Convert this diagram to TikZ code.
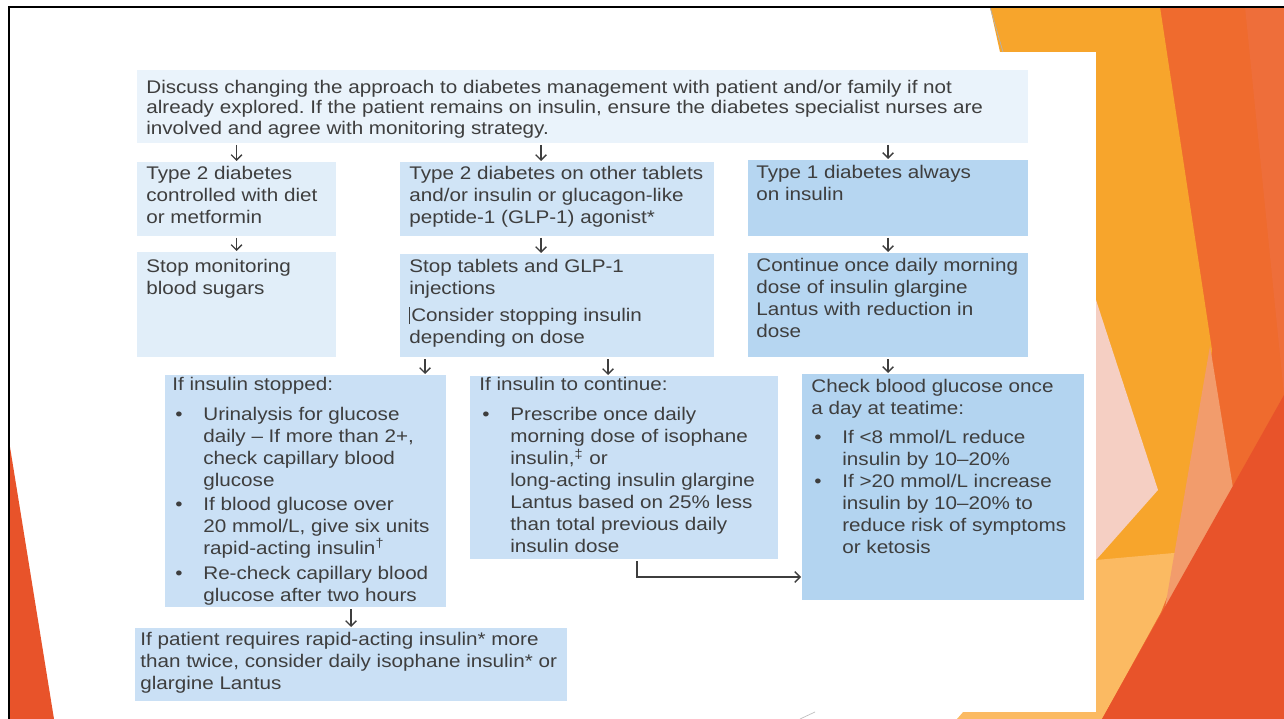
\documentclass[tikz,border=0pt]{standalone}
\usepackage{fontspec}
\setmainfont[FakeStretch=1.13]{Liberation Sans}
\usetikzlibrary{fit,arrows.meta}
\frenchspacing
\definecolor{ink}{HTML}{3E3E3E}
\definecolor{topfill}{HTML}{EAF3FB}
\definecolor{palefill}{HTML}{E1EEF9}
\definecolor{midfill}{HTML}{D0E4F6}
\definecolor{deepfill}{HTML}{B6D6F1}
\definecolor{listfill}{HTML}{CAE0F5}
\definecolor{checkfill}{HTML}{B3D4F0}
\definecolor{facetyellow}{HTML}{F7A52C}
\definecolor{facetorange}{HTML}{EF6B2E}
\definecolor{facetred}{HTML}{E8532A}
\definecolor{facetpeach}{HTML}{F29C6C}
\definecolor{facetlight}{HTML}{FBBA62}
\definecolor{facetpink}{HTML}{F5CFC3}
\definecolor{facetstripe}{HTML}{EE6E3A}
\newdimen\pxu \pxu=0.02cm
\newcommand{\bitem}{\makebox[31\pxu][l]{\hspace{3\pxu}\textbullet}}
\newcommand{\bpad}{\hspace*{31\pxu}}
\begin{document}
\begin{tikzpicture}[x=0.02cm,y=-0.02cm]
\tikzstyle{every node}+=[inner sep=0pt]
\tikzstyle{panel}=[draw=none,outer sep=0pt]
\tikzstyle{txt}=[anchor=north west,align=left,text=ink,font=\fontsize{10.4}{12.5}\selectfont]
\tikzstyle{arr}=[draw=ink,line width=0.8pt,-{Straight Barb[length=3pt,width=6pt]},shorten <=2\pxu,shorten >=1\pxu]
\useasboundingbox (0,0) rectangle (1284,719);
% slide background
\fill[white] (0,0) rectangle (1284,719);
\fill[facetorange] (1160,7) -- (1284,7) -- (1284,719) -- (1102,719) -- cycle;
\fill[facetstripe] (1245,7) -- (1284,7) -- (1284,395) -- cycle;
\fill[facetyellow] (990,7) -- (1160,7) -- (1212,350) -- (1180,600) -- (1096,560) -- (1000,52) -- cycle;
\fill[facetpink] (1096,300) -- (1158,490) -- (1096,560) -- cycle;
\fill[facetlight] (957,719) -- (1096,560) -- (1185,552) -- (1161,612) -- (1102,719) -- cycle;
\fill[facetpeach] (1210,346) -- (1233,488) -- (1165,608) -- cycle;
\fill[facetred] (1102,719) -- (1284,395) -- (1284,719) -- cycle;
\fill[white] (133,52) rectangle (1096,712);
\draw[gray!60,line width=0.4pt] (990,7) -- (1003,52);
\draw[gray!50,line width=0.4pt] (800,719) -- (815,712);
\fill[facetred] (10,447) -- (10,719) -- (54,719) -- cycle;
\draw[black,line width=2.5\pxu] (9,719) -- (9,7) -- (1284,7);
% boxes
\node[panel,fill=topfill,fit={(137,70) (1028,143)}] (intro) {};
\node[panel,fill=palefill,fit={(137,162) (336,236)}] (dietbox) {};
\node[panel,fill=midfill,fit={(400,162) (714,236)}] (tabbox) {};
\node[panel,fill=deepfill,fit={(748,160) (1028,236)}] (t1box) {};
\node[panel,fill=palefill,fit={(137,252) (336,357)}] (stopmon) {};
\node[panel,fill=midfill,fit={(400,254) (714,357)}] (stoptab) {};
\node[panel,fill=deepfill,fit={(748,253) (1028,357)}] (contlan) {};
\node[panel,fill=listfill,fit={(165,375) (446,607)}] (stopped) {};
\node[panel,fill=listfill,fit={(470,376) (778,559)}] (cont) {};
\node[panel,fill=checkfill,fit={(802,374) (1084,600)}] (check) {};
\node[panel,fill=listfill,fit={(135,628) (567,701)}] (rapid) {};
% texts
\node[txt,font=\fontsize{10.4}{11.6}\selectfont] (introtext) at ([shift={(9,10)}]intro.north west)
  {Discuss changing the approach to diabetes management with patient and/or family if not\\
   already explored. If the patient remains on insulin, ensure the diabetes specialist nurses are\\
   involved and agree with monitoring strategy.};
\node[txt] (diettext) at ([shift={(9,4)}]dietbox.north west)
  {Type 2 diabetes\\ controlled with diet\\ or metformin};
\node[txt] (tabtext) at ([shift={(9,4)}]tabbox.north west)
  {Type 2 diabetes on other tablets\\ and/or insulin or glucagon-like\\ peptide-1 (GLP-1) agonist*};
\node[txt] (t1text) at ([shift={(8,5)}]t1box.north west)
  {Type 1 diabetes always\\ on insulin};
\node[txt] (stopmontext) at ([shift={(9,7)}]stopmon.north west)
  {Stop monitoring\\ blood sugars};
\node[txt] (stoptabtext) at ([shift={(9,5)}]stoptab.north west)
  {Stop tablets and GLP-1\\ injections\\[5\pxu]
   \rule[-1.5pt]{0.6pt}{10pt}\hspace{0.5pt}Consider stopping insulin\\ depending on dose};
\node[txt] (contlantext) at ([shift={(8,5)}]contlan.north west)
  {Continue once daily morning\\ dose of insulin glargine\\ Lantus with reduction in\\ dose};
\node[txt] (stoppedtext) at ([shift={(7,2)}]stopped.north west)
  {If insulin stopped:\\[8\pxu]
   \bitem Urinalysis for glucose\\ \bpad daily -- If more than 2+,\\ \bpad check capillary blood\\ \bpad glucose\\[2\pxu]
   \bitem If blood glucose over\\ \bpad 20 mmol/L, give six units\\ \bpad rapid-acting insulin\textsuperscript{†}\\[3\pxu]
   \bitem Re-check capillary blood\\ \bpad glucose after two hours};
\node[txt] (conttext) at ([shift={(9,1)}]cont.north west)
  {If insulin to continue:\\[8\pxu]
   \bitem Prescribe once daily\\ \bpad morning dose of isophane\\ \bpad insulin,\textsuperscript{‡} or\\
   \bpad long-acting insulin glargine\\ \bpad Lantus based on 25\% less\\ \bpad than total previous daily\\ \bpad insulin dose};
\node[txt] (checktext) at ([shift={(9,5)}]check.north west)
  {Check blood glucose once\\ a day at teatime:\\[7\pxu]
   \bitem If <8 mmol/L reduce\\ \bpad insulin by 10--20\%\\
   \bitem If >20 mmol/L increase\\ \bpad insulin by 10--20\% to\\ \bpad reduce risk of symptoms\\ \bpad or ketosis};
\node[txt] (rapidtext) at ([shift={(5,4)}]rapid.north west)
  {If patient requires rapid-acting insulin* more\\ than twice, consider daily isophane insulin* or\\ glargine Lantus};
% connectors
\draw[arr] (intro.south -| dietbox.north) -- (dietbox.north);
\draw[arr] (intro.south -| 541,0) -- (tabbox.north -| 541,0);
\draw[arr] (intro.south -| t1box.north) -- (t1box.north);
\draw[arr] (dietbox.south) -- (stopmon.north);
\draw[arr] (tabbox.south -| 541,0) -- (stoptab.north -| 541,0);
\draw[arr] (t1box.south) -- (contlan.north);
\draw[arr] (stoptab.south -| 425,0) -- (stopped.north -| 425,0);
\draw[arr] (stoptab.south -| 608,0) -- (cont.north -| 608,0);
\draw[arr] (contlan.south) -- (check.north -| contlan.south);
\draw[arr] (stopped.south -| 351,0) -- (rapid.north -| 351,0);
\draw[arr] (cont.south -| 637,0) |- (check.west |- 0,577);
\end{tikzpicture}
\end{document}
